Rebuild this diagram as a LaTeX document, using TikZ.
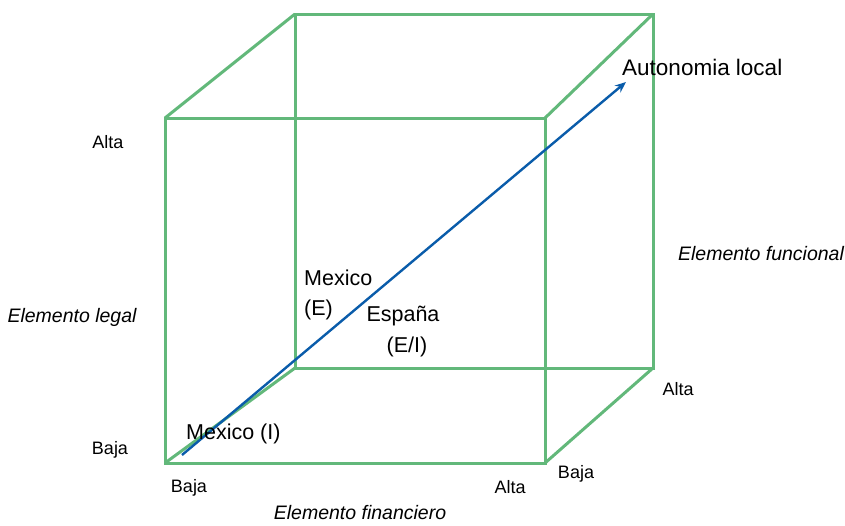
\documentclass[tikz,border=0pt]{standalone}
\usepackage{fontspec}
\setmainfont{Liberation Sans}
\usetikzlibrary{arrows.meta}
\definecolor{cubegreen}{RGB}{98,184,122}
\definecolor{arrowblue}{RGB}{10,92,170}
\tikzset{
  edge/.style={draw=cubegreen, line width=3pt, line join=miter},
  lbl/.style={inner sep=0pt, font=\fontsize{18}{21}\selectfont},
  midlbl/.style={inner sep=0pt, font=\fontsize{21.5}{25}\selectfont},
  axis/.style={inner sep=0pt, font=\fontsize{19.5}{23}\selectfont\itshape},
}
\begin{document}
\begin{tikzpicture}[x=1pt,y=-1pt]
\useasboundingbox (0,0) rectangle (845,525);
% cube corners
\coordinate (FTL) at (165,118);
\coordinate (FTR) at (545,118);
\coordinate (FBL) at (165,463);
\coordinate (FBR) at (545,463);
\coordinate (BTL) at (295,14);
\coordinate (BTR) at (653,14);
\coordinate (BBL) at (295,368);
\coordinate (BBR) at (653,368);
% back face
\draw[edge] (BTL) -- (BTR) -- (BBR) -- (BBL) -- cycle;
% connecting edges
\draw[edge] (FTL) -- (BTL);
\draw[edge] (FTR) -- (BTR);
\draw[edge] (FBL) -- (BBL);
\draw[edge] (FBR) -- (BBR);
% front face
\draw[edge] (FTL) -- (FTR) -- (FBR) -- (FBL) -- cycle;
% arrow
\coordinate (AS) at (182,455);
\coordinate (AE) at (626,82);
\draw[arrowblue, line width=2.4pt, -{Stealth[length=11pt,width=9pt]}] (AS) -- (AE);
% labels
\node[inner sep=0pt, anchor=west, font=\fontsize{22.5}{26}\selectfont] (auto) at (622,67) {Autonomia local};
\node[lbl] (altaL) at (108,142) {Alta};
\node[lbl] (bajaL) at (110,450) {Baja};
\node[axis] (legal) at (72,317) {Elemento legal};
\node[axis] (func) at (761,254) {Elemento funcional};
\node[axis] (fin) at (360,513) {Elemento financiero};
\node[midlbl, anchor=west] (mexI) at (186,434) {Mexico (I)};
\node[lbl] (bajaB) at (189,488) {Baja};
\node[lbl] (altaB) at (510,487) {Alta};
\node[lbl] (bajaR) at (576,474) {Baja};
\node[lbl] (altaR) at (678,389) {Alta};
\node[midlbl, anchor=west] (mexE) at (304,278) {Mexico};
\node[midlbl, anchor=west] (mexE2) at (304,310) {(E)};
\node[midlbl] (esp) at (403,316) {España};
\node[midlbl] (esp2) at (407,347) {(E/I)};
\end{tikzpicture}
\end{document}
